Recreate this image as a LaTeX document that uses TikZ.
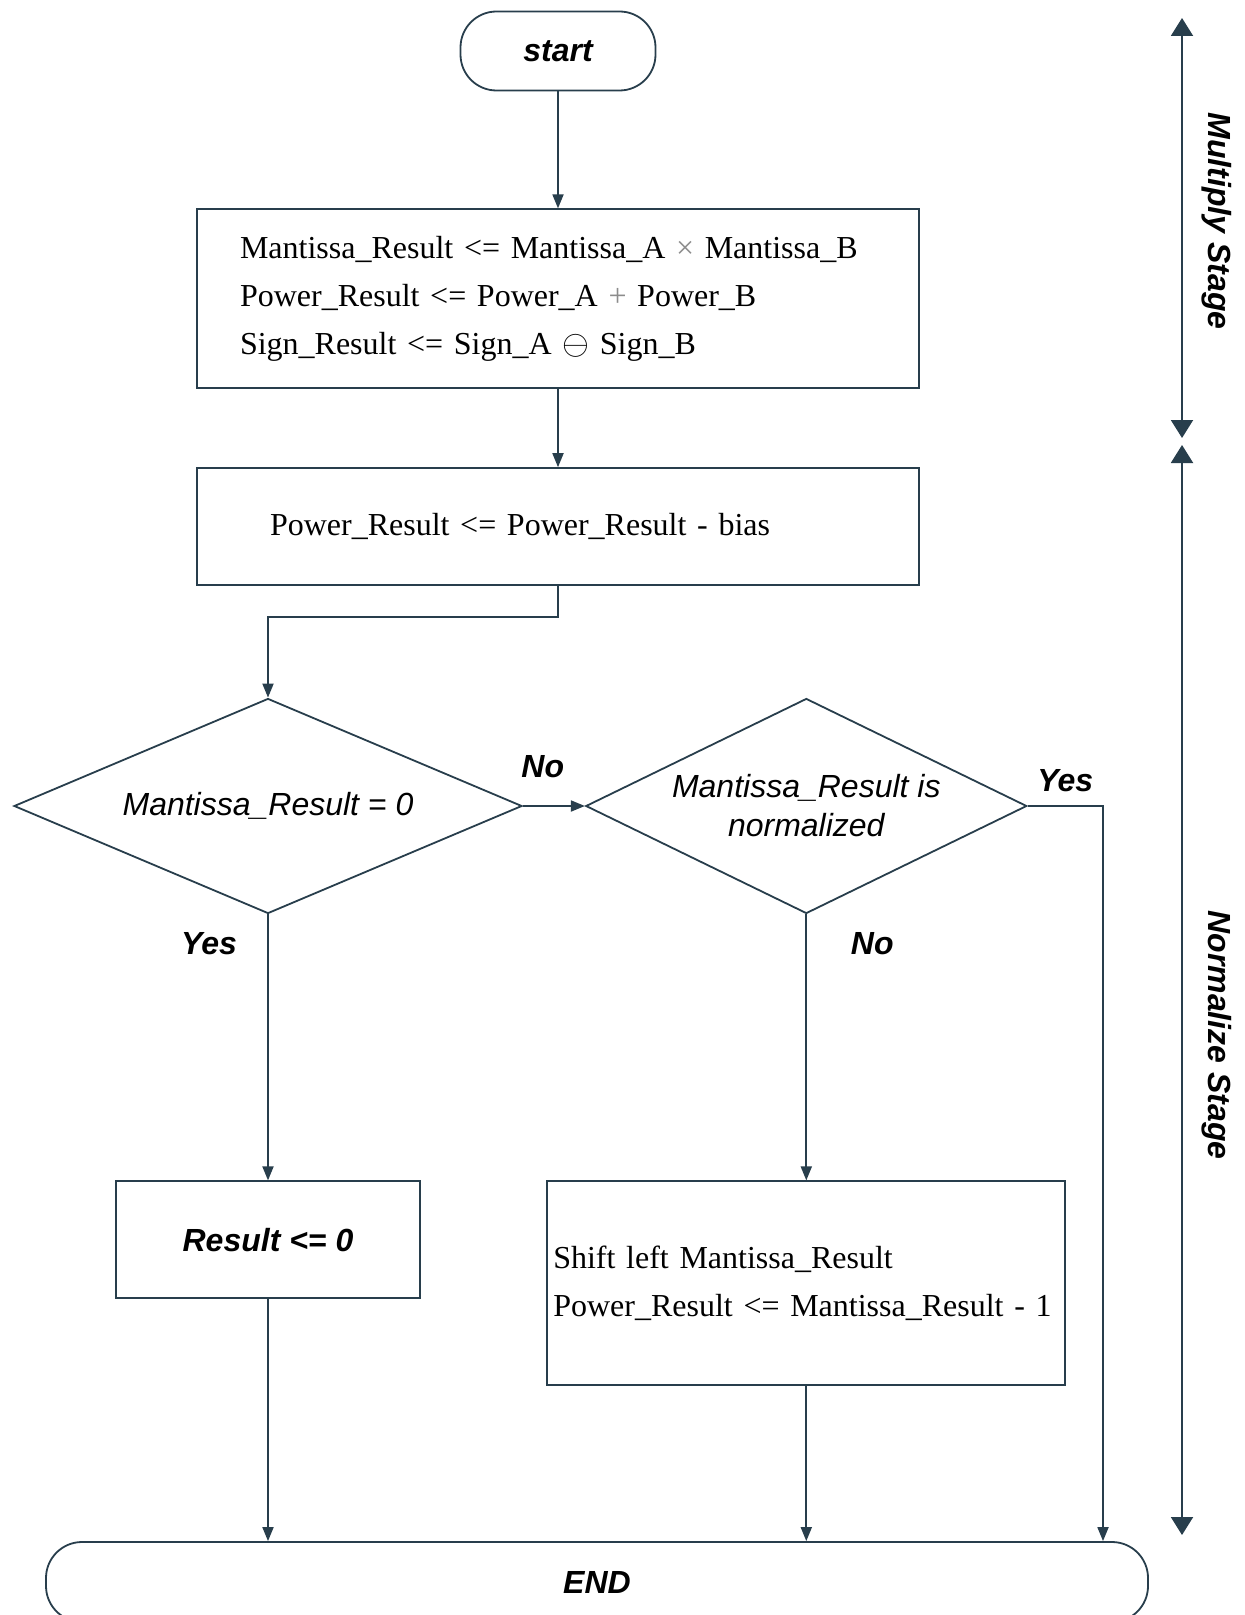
\documentclass[tikz,border=0pt]{standalone}
\usepackage{fontspec}
\setmainfont{Liberation Serif}
\setsansfont{Liberation Sans}
\usetikzlibrary{shapes.geometric, arrows.meta, positioning}
\definecolor{linecol}{RGB}{40,62,76}

\begin{document}
\begin{tikzpicture}[
    x=0.5pt, y=-0.5pt,
    terminal/.style={rectangle, draw=linecol, line width=0.9pt, rounded corners=18pt, font=\sffamily\bfseries\itshape\fontsize{16}{19}\selectfont},
    procbox/.style={rectangle, draw=linecol, line width=0.9pt, minimum width=361pt, align=left, font=\fontsize{16}{24}\selectfont},
    decision/.style={diamond, draw=linecol, line width=0.9pt, inner sep=0pt, align=center, font=\sffamily\itshape\fontsize{16}{19.5}\selectfont},
    lbl/.style={font=\sffamily\bfseries\itshape\fontsize{16}{19}\selectfont},
    arr/.style={-{Triangle[length=7pt, width=5.5pt]}, line width=0.9pt, draw=linecol},
    stagearr/.style={{Triangle[length=9pt, width=11pt]}-{Triangle[length=9pt, width=11pt]}, line width=1pt, draw=linecol},
    stagelbl/.style={lbl, rotate=-90},
]
    \useasboundingbox (0,0) rectangle (1244,1615);

    % Start terminal
    \node[terminal, minimum width=97.5pt, minimum height=39.5pt] (start) at (558,51) {start};

    % Multiply stage
    \node[procbox, minimum height=89.5pt, text width=318pt, inner xsep=21.5pt, below=58.5pt of start] (mult)
        {Mantissa\_Result <= Mantissa\_A {\color{black!45}×} Mantissa\_B\\
         Power\_Result <= Power\_A {\color{black!45}+} Power\_B\\
         Sign\_Result <= Sign\_A $\ominus$ Sign\_B};
    \node[procbox, minimum height=58.5pt, text width=288pt, inner xsep=36.5pt, below=39pt of mult] (bias)
        {Power\_Result <= Power\_Result - bias};

    % Decisions
    \node[decision, aspect=2.36, minimum width=254pt, minimum height=107.5pt] (iszero) at (268,806) {Mantissa\_Result = 0};
    \node[decision, aspect=2.05, minimum width=220.5pt, minimum height=107.5pt, right=31pt of iszero] (isnorm)
        {Mantissa\_Result is\\normalized};

    % Normalize actions
    \node[procbox, minimum width=152pt, minimum height=58.5pt, align=center, font=\sffamily\bfseries\itshape\fontsize{16}{19}\selectfont, below=133pt of iszero] (zero) {Result <= 0};
    \node[procbox, minimum width=259pt, minimum height=102pt, text width=253pt, inner xsep=3pt, below=133pt of isnorm] (shift)
        {Shift left Mantissa\_Result\\
         Power\_Result <= Mantissa\_Result - 1};

    % End terminal
    \node[terminal, minimum width=551pt, minimum height=40pt] (finish) at (597,1582) {END};

    % Arrows: main flow
    \draw[arr] (start) -- (mult);
    \draw[arr] (mult) -- (bias);
    \draw[arr] (bias.south) -- ++(0,31) -| (iszero.north);
    \draw[arr] (iszero.east) -- node[lbl, pos=0.32, yshift=19.5pt] {No} (isnorm.west);
    \coordinate (yesturn) at (1103,806);
    \draw[arr] (isnorm.east) -- node[lbl, pos=0.5, yshift=12.5pt] {Yes} (yesturn) -- (yesturn |- finish.north);
    \draw[arr] (iszero.south) -- node[lbl, pos=0.11, xshift=-29.5pt] {Yes} (zero.north);
    \draw[arr] (isnorm.south) -- node[lbl, pos=0.11, xshift=33pt] {No} (shift.north);
    \draw[arr] (zero.south) -- (zero.south |- finish.north);
    \draw[arr] (shift.south) -- (shift.south |- finish.north);

    % Stage markers (right)
    \coordinate (multtop) at (1182,18);
    \coordinate (multbot) at (1182,438);
    \coordinate (normtop) at (1182,445);
    \coordinate (normbot) at (1182,1535);
    \draw[stagearr] (multtop) -- (multbot);
    \draw[stagearr] (normtop) -- (normbot);
    \node[stagelbl] (multlbl) at (1217,221) {Multiply Stage};
    \node[stagelbl] (normlbl) at (1217,1035) {Normalize Stage};
\end{tikzpicture}
\end{document}
